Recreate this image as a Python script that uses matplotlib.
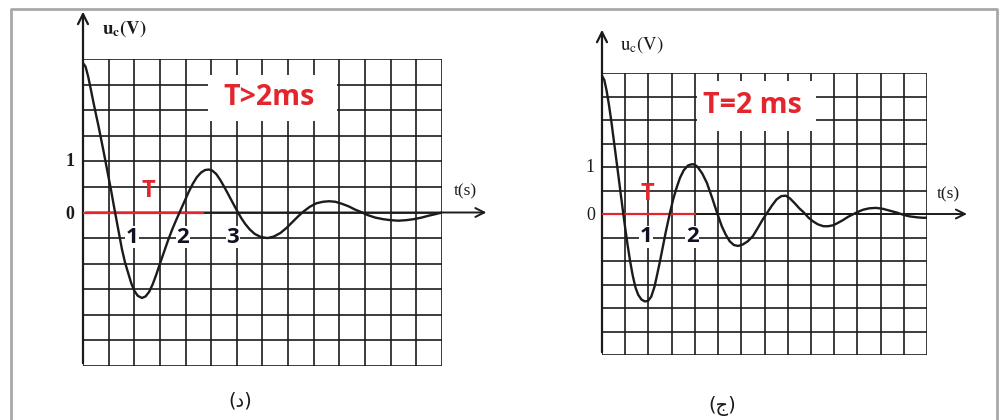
import numpy as np
import matplotlib
matplotlib.use("Agg")
import matplotlib.pyplot as plt
from matplotlib.patches import Rectangle

plt.rcParams['mathtext.fontset'] = 'stix'

# courbe (d) : T > 2 ms   (t en ms, uc en V)
t_d = [0.00, 0.05, 0.10, 0.15, 0.20, 0.25, 0.30, 0.35, 0.40, 0.45, 0.50, 0.55,
       0.60, 0.65, 0.70, 0.76, 0.82, 0.88, 0.94, 1.00, 1.07, 1.15, 1.22, 1.29,
       1.36, 1.43, 1.50, 1.58, 1.66, 1.74, 1.82, 1.90, 1.98, 2.06, 2.14, 2.22,
       2.30, 2.38, 2.45, 2.52, 2.60, 2.68, 2.76, 2.84, 2.92, 3.00, 3.08, 3.16,
       3.25, 3.35, 3.47, 3.60, 3.72, 3.85, 3.97, 4.08, 4.19, 4.30, 4.42, 4.55,
       4.68, 4.80, 4.92, 5.05, 5.18, 5.30, 5.42, 5.55, 5.70, 5.85, 6.00, 6.15,
       6.30, 6.45, 6.60, 6.75, 6.88, 7.00]
u_d = [2.92, 2.85, 2.66, 2.42, 2.17, 1.93, 1.70, 1.45, 1.20, 0.94, 0.68, 0.42,
       0.14, -0.13, -0.40, -0.72, -0.98, -1.18, -1.38, -1.53, -1.63, -1.67, -1.64, -1.55,
       -1.40, -1.21, -1.00, -0.77, -0.54, -0.33, -0.14, 0.04, 0.22, 0.40, 0.56, 0.69,
       0.78, 0.83, 0.84, 0.82, 0.75, 0.63, 0.49, 0.34, 0.19, 0.04, -0.10, -0.22,
       -0.33, -0.42, -0.48, -0.50, -0.47, -0.40, -0.30, -0.19, -0.08, 0.02, 0.11, 0.18,
       0.21, 0.22, 0.21, 0.17, 0.12, 0.06, 0.01, -0.05, -0.10, -0.13, -0.15, -0.16,
       -0.15, -0.13, -0.10, -0.06, -0.03, 0.00]

# courbe (j) : T = 2 ms
t_j = [0.00, 0.05, 0.10, 0.15, 0.20, 0.25, 0.30, 0.35, 0.40, 0.45, 0.50, 0.55,
       0.60, 0.66, 0.72, 0.78, 0.85, 0.92, 0.99, 1.06, 1.13, 1.19, 1.25, 1.31,
       1.37, 1.42, 1.47, 1.53, 1.60, 1.68, 1.76, 1.85, 1.90, 1.96, 2.01, 2.06,
       2.16, 2.26, 2.37, 2.48, 2.58, 2.66, 2.75, 2.84, 2.93, 3.03, 3.14, 3.25,
       3.36, 3.46, 3.56, 3.66, 3.76, 3.86, 3.96, 4.05, 4.15, 4.25, 4.35, 4.45,
       4.55, 4.65, 4.77, 4.87, 4.98, 5.08, 5.19, 5.30, 5.40, 5.50, 5.62, 5.75,
       5.90, 6.05, 6.20, 6.35, 6.50, 6.62, 6.78, 6.90, 7.00]
u_j = [2.94, 2.85, 2.62, 2.32, 1.98, 1.60, 1.22, 0.84, 0.45, 0.07, -0.30, -0.65,
       -0.97, -1.30, -1.56, -1.72, -1.82, -1.86, -1.85, -1.76, -1.55, -1.28, -1.00, -0.70,
       -0.40, -0.17, 0.05, 0.30, 0.54, 0.77, 0.93, 1.03, 1.05, 1.06, 1.04, 1.00,
       0.86, 0.66, 0.35, 0.02, -0.26, -0.43, -0.58, -0.66, -0.68, -0.65, -0.58, -0.47,
       -0.29, -0.12, 0.03, 0.18, 0.31, 0.38, 0.39, 0.33, 0.23, 0.12, 0.03, -0.08,
       -0.16, -0.22, -0.26, -0.26, -0.24, -0.19, -0.13, -0.06, -0.01, 0.04, 0.09, 0.12,
       0.13, 0.11, 0.07, 0.03, -0.02, -0.05, -0.07, -0.08, -0.08]

W, H = 1003, 420
fig = plt.figure(figsize=(W / 100, H / 100), dpi=100)
fig.patch.set_facecolor('white')

# cadre gris
fig.add_artist(plt.Line2D([11 / W, 11 / W, 997 / W, 997 / W],
                          [-0.05, 1 - 9 / H, 1 - 9 / H, -0.05],
                          transform=fig.transFigure, color='#a8a8a8', lw=2))

RED = '#e3262e'
INK = '#1b1b1b'
NUM = '#111122'


def panel(box, t, u, t_red, title, title_xy, white_box, T_xy, nums, caption, cap_xy, bold_label):
    x0, x1, ytop, ybot = box
    ax = fig.add_axes([x0 / W, 1 - ybot / H, (x1 - x0) / W, (ybot - ytop) / H])
    ax.set_xlim(0, 7)
    ax.set_ylim(-3, 3)
    ax.set_axis_off()

    # quadrillage
    ax.vlines(np.arange(0, 7.01, 0.5), -3, 3, color=INK, lw=1.2, zorder=1)
    ax.hlines(np.arange(-3, 3.01, 0.5), 0, 7, color=INK, lw=1.2, zorder=1)

    # zone blanche derriere le titre
    ax.add_patch(Rectangle((white_box[0], white_box[2]), white_box[1] - white_box[0],
                           white_box[3] - white_box[2], facecolor='white',
                           edgecolor='none', zorder=2))

    # axes flechés
    ax.annotate('', xy=(0, 3.98), xytext=(0, -3), annotation_clip=False,
                arrowprops=dict(arrowstyle='->', lw=1.6, color=INK, mutation_scale=18))
    ax.annotate('', xy=(7.92, 0), xytext=(0, 0), annotation_clip=False,
                arrowprops=dict(arrowstyle='->', lw=1.4, color=INK, mutation_scale=16))

    # periode en rouge
    ax.plot([0, t_red], [0, 0], color=RED, lw=1.6, zorder=3)

    # courbe
    ax.plot(t, u, color=INK, lw=1.7, zorder=4, solid_capstyle='round')

    fw = 'bold' if bold_label else 'normal'
    ax.text(0.38, 3.6, r'$\mathbf{u_c(V)}$' if bold_label else r'$\mathrm{u_c(V)}$',
            fontsize=13.5, ha='left', va='center', color=INK, clip_on=False)
    ax.text(-0.25, 1, '1', family='Liberation Serif', fontsize=13, fontweight=fw,
            ha='center', va='center', color=INK, clip_on=False)
    ax.text(-0.25, -0.03, '0', family='Liberation Serif', fontsize=13, fontweight=fw,
            ha='center', va='center', color=INK, clip_on=False)
    ax.text(7.45, 0.42, 't(s)', family='Liberation Serif', fontsize=12.5,
            ha='center', va='center', color=INK, clip_on=False)

    ax.text(title_xy[0], title_xy[1], title, family='Open Sans', fontsize=20.5,
            fontweight='bold', color=RED, ha='center', va='center', zorder=5)
    ax.text(T_xy[0], T_xy[1], 'T', family='Open Sans', fontsize=17,
            fontweight='bold', color=RED, ha='center', va='center', zorder=5)

    for lab, tx in nums:
        ax.text(tx, -0.48, lab, family='Open Sans', fontsize=16, fontweight='bold',
                color=NUM, ha='center', va='center', zorder=5,
                bbox=dict(facecolor='white', edgecolor='none', pad=0.3))

    ax.text(cap_xy[0], cap_xy[1], caption, family='DejaVu Sans', fontsize=14,
            color=INK, ha='center', va='center', clip_on=False)
    return ax


panel((83, 442, 59, 366), t_d, u_d, 2.34, 'T>2ms', (3.62, 2.25),
      (2.44, 4.95, 1.78, 2.69), (1.27, 0.42),
      [('1', 0.96), ('2', 1.95), ('3', 2.92)], '(د)', (3.06, -3.69), True)

panel((602, 927, 73, 355), t_j, u_j, 2.0, 'T=2 ms', (3.25, 2.30),
      (2.05, 4.6, 1.77, 2.83), (0.97, 0.43),
      [('1', 0.95), ('2', 1.94)], '(ج)', (2.59, -4.09), False)

fig.savefig('out.png', dpi=100)
